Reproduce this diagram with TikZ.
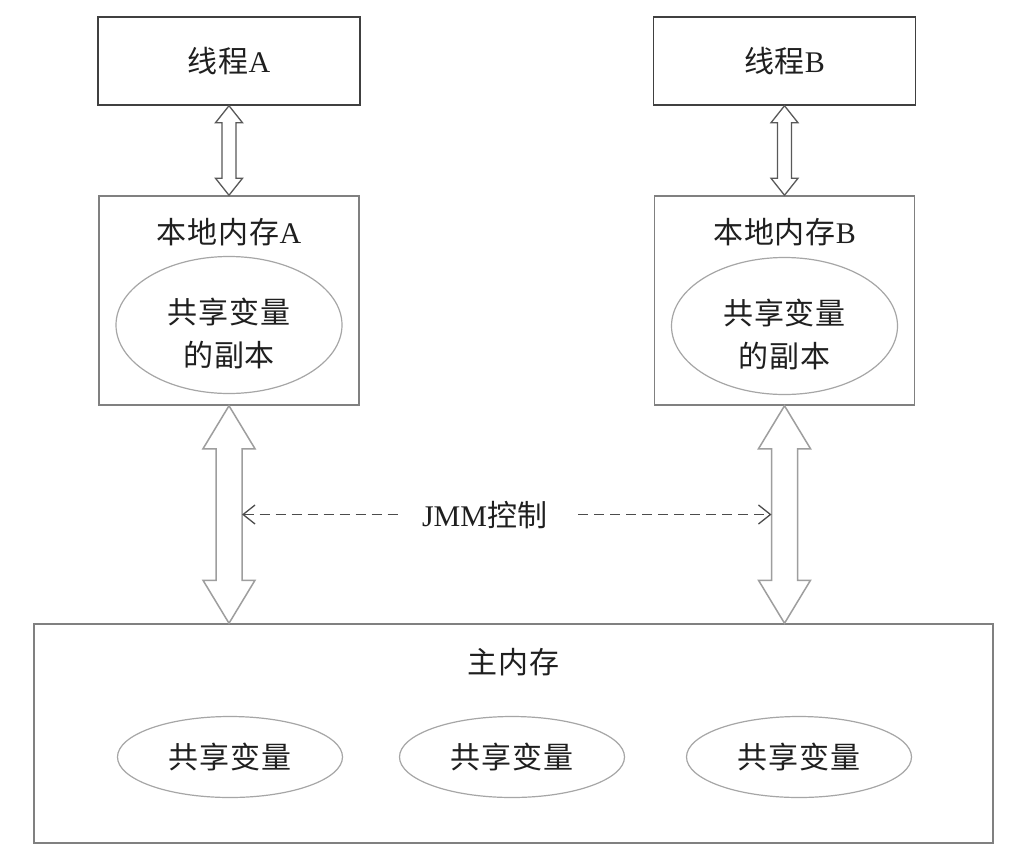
\documentclass[tikz,border=0pt]{standalone}
\usepackage{fontspec}
\setmainfont{Liberation Serif}
\newfontfamily\cjk[LetterSpace=3]{Noto Sans CJK SC}
\usetikzlibrary{calc,arrows.meta,shapes.geometric}
\newcommand\dblarrow[6]{%
  \draw[#6] let \p1=(#1), \p2=(#2) in
    (\x1,\y1) -- (\x1+#4pt,\y1-#3pt) -- (\x1+#5pt,\y1-#3pt) -- (\x1+#5pt,\y2+#3pt)
    -- (\x1+#4pt,\y2+#3pt) -- (\x1,\y2) -- (\x1-#4pt,\y2+#3pt) -- (\x1-#5pt,\y2+#3pt)
    -- (\x1-#5pt,\y1-#3pt) -- (\x1-#4pt,\y1-#3pt) -- cycle;}
\begin{document}
\begin{tikzpicture}[x=1pt,y=-1pt,
  txt/.style={font=\fontsize{30}{35}\selectfont, text=black!88},
  threadbox/.style={draw=black!75, line width=1.5pt, minimum width=262pt, minimum height=88pt, inner sep=0pt, txt},
  localbox/.style={draw=black!50, line width=1.5pt, minimum width=260pt, minimum height=209pt, inner sep=0pt},
  mainbox/.style={draw=black!50, line width=1.5pt, minimum width=959pt, minimum height=219pt, inner sep=0pt},
  copyell/.style={ellipse, draw=black!35, line width=1.2pt, minimum width=226pt, minimum height=137pt, inner sep=0pt},
  varell/.style={ellipse, draw=black!35, line width=1.2pt, minimum width=225pt, minimum height=81pt, inner sep=0pt, txt},
  thinarrow/.style={draw=black!65, line width=1.3pt, fill=white, line join=miter},
  bigarrow/.style={draw=black!38, line width=1.5pt, fill=white, line join=miter},
  jmmline/.style={draw=black!70, line width=1.3pt, dash pattern=on 10pt off 6pt},
  barb/.tip={Straight Barb[length=12pt, width=19pt, line width=1.3pt]}
]
\useasboundingbox[fill=white] (0,0) rectangle (1022,854);

% thread boxes
\node[threadbox] (ta) at (229,61) {{\cjk 线程}A};
\node[threadbox] (tb) at (784.5,61) {{\cjk 线程}B};

% local memory boxes
\node[localbox] (la) at (229,300.5) {};
\node[localbox] (lb) at (784.5,300.5) {};
\node[txt] (lat) at ($(la.north)+(0,37)$) {{\cjk 本地内存}A};
\node[txt] (lbt) at ($(lb.north)+(0,37)$) {{\cjk 本地内存}B};
\node[copyell] (ea) at (229,325) {};
\node[copyell] (eb) at (784.5,326) {};
\node[txt, align=center, font=\fontsize{30}{43}\selectfont] (eat) at ($(ea)+(0,8)$) {{\cjk 共享变量}\\{\cjk 的副本}};
\node[txt, align=center, font=\fontsize{30}{43}\selectfont] (ebt) at ($(eb)+(0,8)$) {{\cjk 共享变量}\\{\cjk 的副本}};

% main memory
\node[mainbox] (main) at (513.5,733.5) {};
\node[txt] (mt) at ($(main.north)+(0,39)$) {\cjk 主内存};
\node[varell] (v1) at (230,757) {\cjk 共享变量};
\node[varell] (v2) at (512,757) {\cjk 共享变量};
\node[varell] (v3) at (799,757) {\cjk 共享变量};

% thin double arrows
\dblarrow{ta.south}{la.north}{17}{13.5}{7}{thinarrow}
\dblarrow{tb.south}{lb.north}{17}{13.5}{7}{thinarrow}

% big double arrows
\dblarrow{la.south}{main.north -| la.south}{43}{26}{13}{bigarrow}
\dblarrow{lb.south}{main.north -| lb.south}{43}{26}{13}{bigarrow}

% JMM control
\coordinate (jl) at ($(la.south)!0.5!(la.south |- main.north)$);
\coordinate (jr) at ($(lb.south)!0.5!(lb.south |- main.north)$);
\node[txt, inner sep=0pt] (jmm) at (485,515) {JMM{\cjk 控制}};
\draw[jmmline, {barb}-] ([xshift=13pt]jl) -- ([xshift=-19pt]jmm.west |- jl);
\draw[jmmline, -{barb}] ([xshift=30pt]jmm.east |- jr) -- ([xshift=-13pt]jr);
\end{tikzpicture}
\end{document}
